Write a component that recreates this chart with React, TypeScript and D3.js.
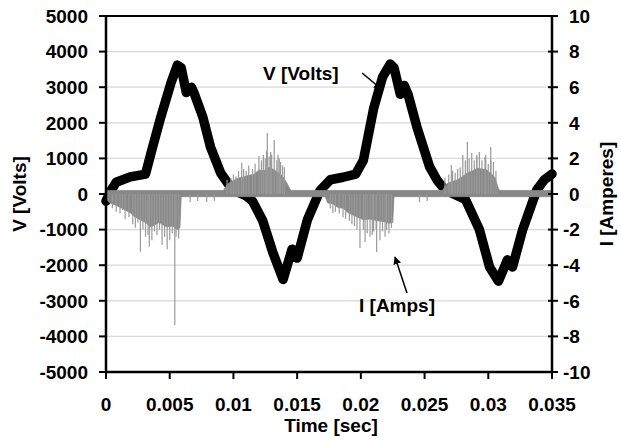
import React from "react";
import * as d3 from "d3";

// Voltage trace (time in s, volts)
const vTime = [0, 0.0004, 0.0008, 0.0019, 0.0031, 0.0036, 0.0043, 0.0051, 0.0056, 0.0059, 0.0063, 0.0067, 0.0069, 0.0076, 0.0082, 0.009, 0.0096, 0.0103, 0.011, 0.0115, 0.0123, 0.0131, 0.0139, 0.0146, 0.015, 0.0158, 0.0168, 0.0176, 0.0186, 0.0196, 0.0202, 0.021, 0.0217, 0.0223, 0.0226, 0.0231, 0.0234, 0.0237, 0.0244, 0.0254, 0.026, 0.0266, 0.0274, 0.0282, 0.0293, 0.0301, 0.0308, 0.0315, 0.0319, 0.0327, 0.0338, 0.0344, 0.035];
const vVolts = [-200, 100, 330, 480, 560, 1240, 2160, 3120, 3620, 3550, 2850, 3000, 2850, 2160, 1320, 590, 280, 60, -50, -200, -750, -1650, -2400, -1550, -1800, -730, 100, 400, 470, 560, 950, 2400, 3280, 3650, 3550, 2800, 3050, 2800, 1880, 760, 380, 120, -20, -150, -1000, -2050, -2450, -1850, -2050, -1000, 110, 400, 560];

// Current envelope (time in s, amperes)
const iTime = [0, 0.0003, 0.0007, 0.0011, 0.0015, 0.0019, 0.0023, 0.0027, 0.0031, 0.0035, 0.0039, 0.0042, 0.0045, 0.0048, 0.0052, 0.0056, 0.0058, 0.0059, 0.0092, 0.0096, 0.0100, 0.0104, 0.0108, 0.0112, 0.0116, 0.012, 0.0124, 0.0128, 0.0132, 0.0136, 0.0139, 0.0142, 0.0145, 0.0172, 0.0174, 0.0178, 0.0182, 0.0186, 0.019, 0.0196, 0.0202, 0.0207, 0.0213, 0.0218, 0.0222, 0.0225, 0.0226, 0.0264, 0.0268, 0.0272, 0.0276, 0.028, 0.0284, 0.0288, 0.0291, 0.0295, 0.0299, 0.0302, 0.0305, 0.0308, 0.0309, 0.035];
const iUpper = [0.2, 0.2, 0.2, 0.2, 0.2, 0.2, 0.2, 0.2, 0.2, 0.2, 0.2, 0.2, 0.2, 0.2, 0.2, 0.2, 0.2, 0.2, 0.2, 0.6, 0.75, 0.9, 0.95, 1.05, 1.1, 1.35, 1.3, 1.5, 1.35, 1.15, 0.95, 0.6, 0.2, 0.2, 0.2, 0.2, 0.2, 0.2, 0.2, 0.2, 0.2, 0.2, 0.2, 0.2, 0.2, 0.2, 0.2, 0.2, 0.6, 0.7, 0.8, 1.0, 1.2, 1.3, 1.45, 1.4, 1.35, 1.15, 0.95, 0.3, 0.2, 0.2];
const iLower = [-0.3, -0.5, -0.6, -0.75, -0.9, -1.05, -1.3, -1.45, -1.6, -1.85, -1.7, -1.6, -1.75, -1.85, -1.8, -2.0, -1.9, -0.15, -0.15, -0.15, -0.15, -0.15, -0.15, -0.15, -0.15, -0.15, -0.15, -0.15, -0.15, -0.15, -0.15, -0.15, -0.15, -0.15, -0.5, -0.55, -0.75, -0.8, -1.05, -1.25, -1.45, -1.4, -1.5, -1.55, -1.65, -1.6, -0.15, -0.15, -0.15, -0.15, -0.15, -0.15, -0.15, -0.15, -0.15, -0.15, -0.15, -0.15, -0.15, -0.15, -0.15, -0.15];

// Current spikes (time in s, amperes)
const spikeTime = [0.0005, 0.0008, 0.0011, 0.0013, 0.0015, 0.0018, 0.0021, 0.0023, 0.0025, 0.0027, 0.0029, 0.0031, 0.0033, 0.0034, 0.0036, 0.0038, 0.004, 0.0042, 0.0044, 0.0046, 0.0048, 0.005, 0.0052, 0.0054, 0.0055, 0.0057,
  0.0066, 0.0072, 0.0079, 0.0085,
  0.0095, 0.0098, 0.01, 0.0102, 0.0104, 0.01065, 0.0108, 0.011, 0.0112, 0.0115, 0.0117, 0.012, 0.0122, 0.01235, 0.0125, 0.0126, 0.01266, 0.0128, 0.013, 0.01292, 0.0132, 0.0134, 0.0135, 0.0136, 0.0137, 0.01385, 0.014,
  0.0176, 0.0178, 0.018, 0.0183, 0.0186, 0.0188, 0.0191, 0.0193, 0.0195, 0.0197, 0.01993, 0.0202, 0.02033, 0.0205, 0.02072, 0.0209, 0.021, 0.0212, 0.02124, 0.0215, 0.0217, 0.0219, 0.02202, 0.0222, 0.0224,
  0.0246, 0.0252,
  0.0266, 0.0269, 0.0271, 0.0272, 0.0274, 0.0276, 0.0278, 0.028, 0.0282, 0.02836, 0.0285, 0.0287, 0.0289, 0.02909, 0.0291, 0.0293, 0.0295, 0.02974, 0.0298, 0.03, 0.03019, 0.0302, 0.0304, 0.0306];
const spikeAmps = [-0.8, -1.0, -1.1, -0.9, -1.4, -1.3, -1.7, -1.9, -1.6, -3.24, -2.0, -2.4, -2.3, -2.97, -2.6, -2.1, -2.3, -2.0, -2.87, -2.4, -3.1, -2.6, -2.2, -7.36, -2.4, -2.5,
  -0.45, -0.4, -0.45, -0.4,
  0.8, 0.9, 1.1, 1.0, 1.3, 1.76, 1.4, 1.3, 1.6, 1.4, 1.7, 2.13, 1.9, 2.19, 2.0, 2.4, 3.43, 2.1, 2.2, 2.36, 3.03, 1.9, 2.2, 2.0, 1.8, 1.6, 1.5,
  -0.8, -1.07, -1.0, -1.1, -1.3, -1.4, -1.5, -1.7, -1.8, -2.0, -3.03, -2.0, -2.7, -2.2, -2.4, -2.3, -2.1, -2.0, -3.26, -2.6, -2.1, -2.4, -2.0, -2.2, -1.9,
  -0.45, -0.4,
  0.9, 1.1, 1.63, 1.3, 1.2, 1.4, 1.5, 2.19, 1.9, 2.92, 2.0, 2.3, 1.9, 2.08, 2.2, 2.36, 1.9, 2.08, 2.2, 1.7, 2.64, 1.9, 1.8, 1.3];

const xTicks = [0, 0.005, 0.01, 0.015, 0.02, 0.025, 0.03, 0.035];
const xTickLabels = ["0", "0.005", "0.01", "0.015", "0.02", "0.025", "0.03", "0.035"];
const vTicks = [-5000, -4000, -3000, -2000, -1000, 0, 1000, 2000, 3000, 4000, 5000];
const iTicks = [-10, -8, -6, -4, -2, 0, 2, 4, 6, 8, 10];

const FONT = "'Liberation Sans', Arial, Helvetica, sans-serif";

export default function App() {
  const L = 106, R = 552, T = 16, B = 372;
  const x = d3.scaleLinear().domain([0, 0.035]).range([L, R]);
  const yV = d3.scaleLinear().domain([-5000, 5000]).range([B, T]);
  const yI = d3.scaleLinear().domain([-10, 10]).range([B, T]);

  const vLine = d3.line<number>().x((_, i) => x(vTime[i])).y((d) => yV(d))(vVolts) || "";
  const iArea = d3.area<number>()
    .x((_, i) => x(iTime[i]))
    .y0((_, i) => yI(iLower[i]))
    .y1((d) => yI(d))(iUpper) || "";

  const gray = "#888888";
  const fs = 19;

  return (
    <svg width={621} height={446} style={{ position: "absolute", left: 0, top: 0, background: "#fff" }}
      fontFamily={FONT} fontWeight="bold">
      <defs>
        <marker id="arr" viewBox="0 0 10 10" refX="9" refY="5" markerWidth="8" markerHeight="8" orient="auto-start-reverse" markerUnits="userSpaceOnUse">
          <path d="M0,0 L10,5 L0,10 z" fill="#000" />
        </marker>
      </defs>
      <rect x={0} y={0} width={621} height={446} fill="#fff" />
      {/* gridlines */}
      {vTicks.filter((v) => v !== -5000 && v !== 5000).map((v) => (
        <line key={"g" + v} x1={L} x2={R} y1={yV(v)} y2={yV(v)} stroke="#d8d8d8" strokeWidth={1.2} />
      ))}
      {/* voltage */}
      <path d={vLine} fill="none" stroke="#000" strokeWidth={9.5} strokeLinejoin="round" strokeLinecap="round" />
      {/* current */}
      <path d={iArea} fill={gray} stroke={gray} strokeWidth={0.8} />
      {spikeTime.map((t, i) => (
        <line key={"s" + i} x1={x(t)} x2={x(t)} y1={yI(0)} y2={yI(spikeAmps[i])} stroke="#999999" strokeWidth={1.2} />
      ))}
      {/* frame */}
      <line x1={L} x2={R} y1={T} y2={T} stroke="#000" strokeWidth={2} />
      <line x1={L} x2={L} y1={T} y2={B} stroke="#000" strokeWidth={2.5} />
      <line x1={R} x2={R} y1={T} y2={B} stroke="#000" strokeWidth={2.5} />
      <line x1={L} x2={R} y1={B} y2={B} stroke="#000" strokeWidth={2.5} />
      {/* left axis */}
      {vTicks.map((v) => (
        <g key={"l" + v}>
          <line x1={L - 7} x2={L} y1={yV(v)} y2={yV(v)} stroke="#000" strokeWidth={2} />
          <text x={88} y={yV(v)} dy="0.36em" textAnchor="end" fontSize={fs}>{v}</text>
        </g>
      ))}
      {/* right axis */}
      {iTicks.map((v) => (
        <g key={"r" + v}>
          <line x1={R - 4} x2={R + 6} y1={yI(v)} y2={yI(v)} stroke="#000" strokeWidth={2} />
          <text x={v < 0 ? 563 : 569} y={yI(v)} dy="0.36em" textAnchor="start" fontSize={fs}>{v}</text>
        </g>
      ))}
      {/* bottom axis */}
      {xTicks.map((t, i) => (
        <g key={"b" + i}>
          <line x1={x(t)} x2={x(t)} y1={B} y2={B + 7} stroke="#000" strokeWidth={2} />
          <text x={x(t)} y={411} textAnchor="middle" fontSize={fs}>{xTickLabels[i]}</text>
        </g>
      ))}
      {/* titles */}
      <text x={331} y={432} textAnchor="middle" fontSize={fs}>Time [sec]</text>
      <text transform={`translate(26,${yV(0)}) rotate(-90)`} textAnchor="middle" fontSize={fs}>V [Volts]</text>
      <text transform={`translate(613,${yV(0)}) rotate(-90)`} textAnchor="middle" fontSize={fs}>I [Amperes]</text>
      {/* annotations */}
      <text x={263} y={80} fontSize={fs}>V [Volts]</text>
      <line x1={x(0.0201)} y1={yV(3400)} x2={x(0.0216)} y2={yV(2950)} stroke="#000" strokeWidth={1.5} markerEnd="url(#arr)" />
      <text x={359} y={312} fontSize={fs}>I [Amps]</text>
      <line x1={x(0.02362)} y1={yI(-5.56)} x2={x(0.02268)} y2={yI(-3.54)} stroke="#000" strokeWidth={1.5} markerEnd="url(#arr)" />
    </svg>
  );
}
